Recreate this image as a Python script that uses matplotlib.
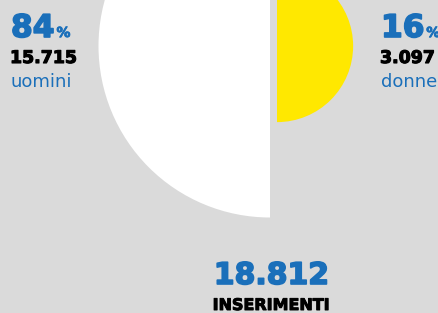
import numpy as np
import matplotlib.pyplot as plt
import matplotlib.patheffects as pe
from matplotlib.patches import Wedge

# dati
labels = ['uomini', 'donne']
values = [15715, 3097]
percent = [84, 16]
total = 18812
total_label = 'INSERIMENTI'

bg = '#dadada'
blue = '#1a6fba'
colors = ['#ffffff', '#ffe800']

fig = plt.figure(figsize=(4.39, 3.13), dpi=100)
fig.patch.set_facecolor(bg)
ax = fig.add_axes([0, 0, 1, 1])
ax.set_facecolor(bg)
ax.set_xlim(0, 439)
ax.set_ylim(313, 0)
ax.axis('off')

# semicerchi con area proporzionale
r_max = 171.5
cy = 46
radii = [r_max * np.sqrt(v / max(values)) for v in values]
ax.add_patch(Wedge((270, cy), radii[0], 90, 270, color=colors[0], lw=0))
ax.add_patch(Wedge((277, cy), radii[1], -90, 90, color=colors[1], lw=0))

fam = 'DejaVu Sans'
def fmt(n):
    return f'{n:,}'.replace(',', '.')

def spesso(c, w=0.9):
    return [pe.withStroke(linewidth=w, foreground=c)]

def blocco(x, pct, val, lab):
    t = ax.text(x, 37, str(pct), color=blue, fontsize=22.5, fontweight='bold',
                family=fam, va='baseline', ha='left', path_effects=spesso(blue, 1.2))
    fig.canvas.draw()
    bb = t.get_window_extent()
    ax.text(bb.x1 + 2, 37, '%', color=blue, fontsize=10,
            fontweight='bold', family=fam, va='baseline', ha='left',
            path_effects=spesso(blue, 0.6))
    ax.text(x - 1, 63, fmt(val), color='black', fontsize=12.5, fontweight='bold',
            family=fam, va='baseline', ha='left', path_effects=spesso('black', 0.8))
    ax.text(x, 87, lab, color=blue, fontsize=13, family=fam,
            va='baseline', ha='left')

blocco(11, percent[0], values[0], labels[0])
blocco(381, percent[1], values[1], labels[1])

ax.text(271.5, 284, fmt(total), color=blue, fontsize=21.5, fontweight='bold',
        family=fam, va='baseline', ha='center', path_effects=spesso(blue, 1.2))
ax.text(271.5, 310, total_label, color='black', fontsize=11.5, fontweight='bold',
        family=fam, va='baseline', ha='center', path_effects=spesso('black', 0.7))

fig.savefig('out.png', dpi=100, facecolor=bg)
